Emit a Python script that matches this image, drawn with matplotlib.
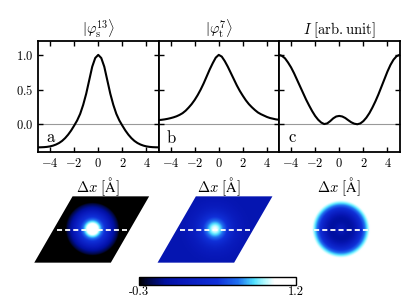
import numpy as np
import matplotlib.pyplot as plt
from matplotlib.colors import LinearSegmentedColormap, Normalize, PowerNorm
from matplotlib.patches import Polygon
from matplotlib.cm import ScalarMappable

plt.rcParams['mathtext.fontset'] = 'cm'
plt.rcParams['font.family'] = 'cmr10'
plt.rcParams['axes.formatter.use_mathtext'] = True

# line cuts along the dashed line, Delta x in Angstrom
dx = [-5.0, -4.75, -4.5, -4.25, -4.0, -3.75, -3.5, -3.25, -3.0, -2.75, -2.5,
      -2.25, -2.0, -1.75, -1.5, -1.25, -1.0, -0.75, -0.5, -0.25, 0.0,
      0.25, 0.5, 0.75, 1.0, 1.25, 1.5, 1.75, 2.0, 2.25, 2.5,
      2.75, 3.0, 3.25, 3.5, 3.75, 4.0, 4.25, 4.5, 4.75, 5.0]

phi_s13 = [-0.333, -0.332, -0.33, -0.326, -0.319, -0.308, -0.292, -0.27, -0.24, -0.2, -0.15,
           -0.09, -0.02, 0.055, 0.15, 0.28, 0.44, 0.635, 0.83, 0.955, 1.0,
           0.955, 0.83, 0.635, 0.44, 0.28, 0.15, 0.055, -0.02, -0.09, -0.15,
           -0.2, -0.24, -0.27, -0.292, -0.308, -0.319, -0.326, -0.33, -0.332, -0.333]

phi_t7 = [0.06, 0.064, 0.07, 0.078, 0.088, 0.1, 0.115, 0.135, 0.16, 0.195, 0.24,
          0.29, 0.35, 0.42, 0.5, 0.59, 0.69, 0.79, 0.88, 0.96, 1.0,
          0.975, 0.91, 0.83, 0.74, 0.65, 0.56, 0.48, 0.41, 0.345, 0.29,
          0.245, 0.205, 0.17, 0.145, 0.125, 0.105, 0.09, 0.08, 0.07, 0.065]

intensity = [1.0, 0.985, 0.95, 0.89, 0.82, 0.735, 0.64, 0.545, 0.45, 0.355, 0.27,
             0.19, 0.12, 0.065, 0.025, 0.003, 0.012, 0.045, 0.085, 0.112, 0.12,
             0.112, 0.09, 0.058, 0.028, 0.008, 0.0, 0.012, 0.045, 0.095, 0.16,
             0.24, 0.33, 0.43, 0.54, 0.65, 0.76, 0.855, 0.93, 0.98, 1.0]

curves = [phi_s13, phi_t7, intensity]
titles = [r'$|\varphi_{\rm s}^{13}\rangle$', r'$|\varphi_{\rm t}^{7}\rangle$',
          r'$I\ [\mathrm{arb.unit}]$']
letters = ['a', 'b', 'c']
xticks = [-4, -2, 0, 2, 4]
yticks = [0.0, 0.5, 1.0]

VMIN, VMAX = -0.3, 1.2
LATTICE = 10.94  # rhombus side in Angstrom

def vpos(v):
    return (v - VMIN) / (VMAX - VMIN)

cmap = LinearSegmentedColormap.from_list('blues_w', [
    (0.0, '#000000'), (vpos(-0.2), '#00084a'), (vpos(-0.05), '#0010a0'),
    (vpos(0.1), '#0818b8'), (vpos(0.45), '#1030d8'), (vpos(0.65), '#2070f0'),
    (vpos(0.8), '#50e0ff'), (vpos(0.9), '#b0faff'), (vpos(1.0), '#ffffff'),
    (1.0, '#ffffff')])
norm = Normalize(VMIN, VMAX)
# colour scaling of each map
map_norms = [PowerNorm(0.6, -0.31, 0.85), Normalize(-0.3, 1.2), Normalize(-0.2, 1.0)]

W, H = 415, 300
fig = plt.figure(figsize=(W / 100, H / 100), dpi=100)

lefts = [38, 158.5, 279]
for i, (left, y, title, letter) in enumerate(zip(lefts, curves, titles, letters)):
    ax = fig.add_axes([left / W, 1 - 152 / H, 120.5 / W, 111 / H])
    ax.axhline(0, color='#999999', lw=0.8, zorder=1)
    ax.plot(dx, y, color='black', lw=1.5, zorder=2)
    ax.set_xlim(-5, 5)
    ax.set_ylim(-0.4, 1.2)
    ax.set_xticks(xticks)
    ax.set_xticklabels([f'${t}$' for t in xticks], fontsize=9)
    ax.set_yticks(yticks)
    if i == 0:
        ax.set_yticklabels([f'${t:.1f}$' for t in yticks], fontsize=9)
    else:
        ax.set_yticklabels([])
    ax.tick_params(direction='in', length=3.6, width=1, top=True, right=True)
    for s in ax.spines.values():
        s.set_linewidth(1.3)
    ax.set_title(title, fontsize=10.5, pad=5)
    ax.set_xlabel(r'$\Delta x\ [\mathrm{\AA}]$', fontsize=10.5, labelpad=4)
    ax.text(0.11, 0.135, rf'$\mathrm{{{letter}}}$', transform=ax.transAxes,
            fontsize=12, ha='center', va='center')

# 2D maps on the rhombic cell, built from the radial average of each cut
a1 = np.array([LATTICE, 0.0])
a2 = np.array([LATTICE / 2, LATTICE * np.sqrt(3) / 2])
corners = np.array([-(a1 + a2) / 2, (a1 - a2) / 2, (a1 + a2) / 2, (a2 - a1) / 2])

dx_arr = np.array(dx)
px_per_A = 7.0
img_w, img_h = 124, 76
hx, hy = img_w / 2 / px_per_A, img_h / 2 / px_per_A
gx, gy = np.meshgrid(np.linspace(-hx, hx, 250), np.linspace(-hy, hy, 160))

centers = [(91.7, 229.5), (215, 229.5), (341, 229.5)]
for (cx, cy), y, mnorm in zip(centers, curves, map_norms):
    y = np.array(y)
    r_prof = dx_arr[dx_arr >= 0]
    prof = (y[dx_arr >= 0] + y[dx_arr <= 0][::-1]) / 2
    rmin = np.full(gx.shape, np.inf)
    for n in (-1, 0, 1):
        for m in (-1, 0, 1):
            sx, sy = n * a1 + m * a2
            rmin = np.minimum(rmin, np.hypot(gx - sx, gy - sy))
    field = np.interp(rmin, r_prof, prof)

    iax = fig.add_axes([(cx - img_w / 2) / W, (H - cy - img_h / 2) / H, img_w / W, img_h / H])
    iax.set_xlim(-hx, hx)
    iax.set_ylim(-hy, hy)
    iax.axis('off')
    im = iax.imshow(field, cmap=cmap, norm=mnorm, origin='lower',
                    extent=[-hx, hx, -hy, hy], interpolation='bilinear', aspect='auto')
    poly = Polygon(corners, closed=True, transform=iax.transData, fc='none', ec='none')
    iax.add_patch(poly)
    im.set_clip_path(poly)
    iax.plot([-5, 5], [0, 0], color='white', lw=1.3, ls=(0, (2.8, 1.7)))

cax = fig.add_axes([139.3 / W, (H - 284.7) / H, 156.4 / W, 7.4 / H])
cb = fig.colorbar(ScalarMappable(norm=norm, cmap=cmap), cax=cax, orientation='horizontal')
cb.set_ticks([VMIN, VMAX])
cb.set_ticklabels(['-0.3', '1.2'])
cax.tick_params(length=0, labelsize=9, pad=1)
cb.outline.set_linewidth(1)

plt.savefig('out.png', dpi=100)
plt.close()
